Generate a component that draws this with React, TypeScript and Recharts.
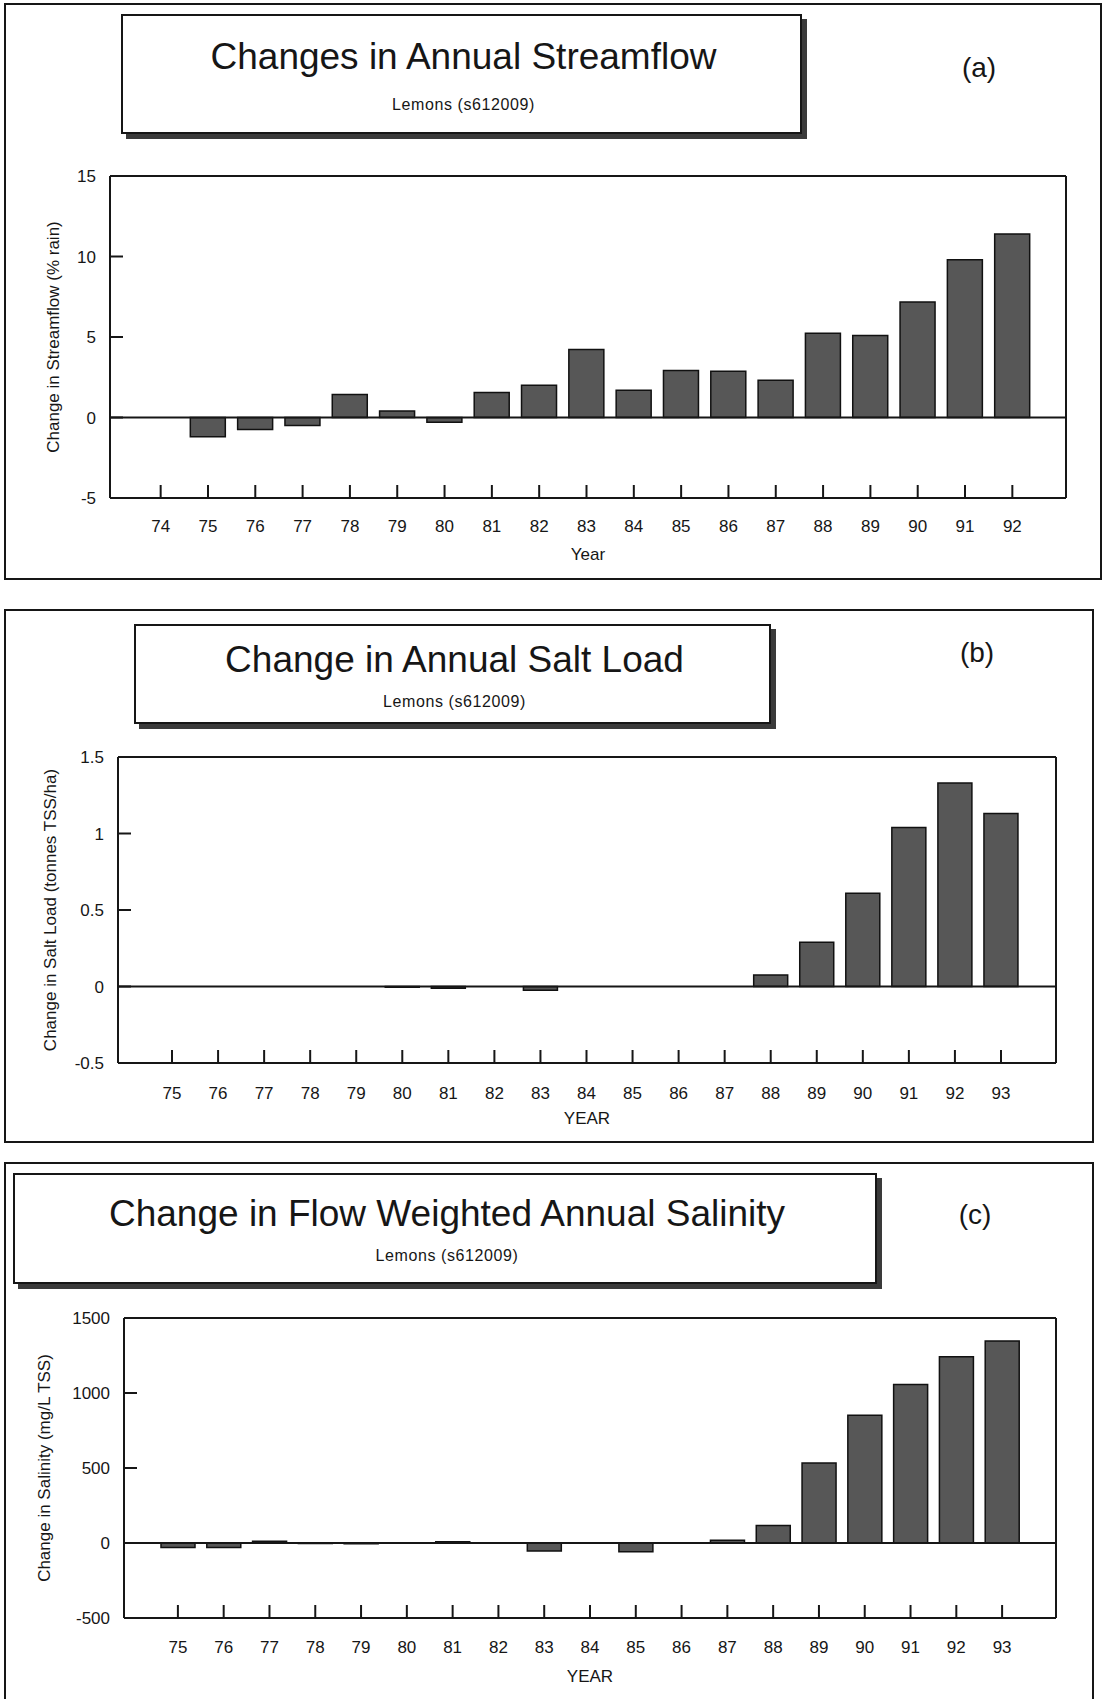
import React from "react";
import { Bar, BarChart, ReferenceLine, XAxis, YAxis } from "recharts";

// panel (a): 1974-1992
const YEARS_A = ["74", "75", "76", "77", "78", "79", "80", "81", "82", "83", "84", "85", "86", "87", "88", "89", "90", "91", "92"];
const STREAMFLOW = [0, -1.2, -0.74, -0.5, 1.43, 0.41, -0.3, 1.56, 2.0, 4.23, 1.7, 2.92, 2.87, 2.32, 5.24, 5.1, 7.17, 9.8, 11.4];
const TICKS_A = [-5, 0, 5, 10, 15];

// panels (b) and (c): 1975-1993
const YEARS_BC = ["75", "76", "77", "78", "79", "80", "81", "82", "83", "84", "85", "86", "87", "88", "89", "90", "91", "92", "93"];
const SALT_LOAD = [0, 0, 0, 0, 0, -0.005, -0.012, 0, -0.024, 0, 0, 0, 0, 0.075, 0.29, 0.61, 1.04, 1.33, 1.13];
const TICKS_B = [-0.5, 0, 0.5, 1, 1.5];
const SALINITY = [-30, -30, 12, -3, -5, -2, 8, -2, -53, -2, -58, -2, 19, 116, 534, 852, 1056, 1241, 1346];
const TICKS_C = [-500, 0, 500, 1000, 1500];

const INK = "#161616";
const FONT = "'Liberation Sans', Arial, Helvetica, sans-serif";

type Box = { left: number; top: number; right: number; bottom: number };

type PanelProps = {
  top: number;
  height: number;
  plot: Box;
  labelX: number;
  categories: string[];
  values: number[];
  ticks: number[];
  yLabel: string;
  xLabel: string;
  padL: number;
  padR: number;
  barSize: number;
  tickMargin: number;
  xLabelOffset: number;
};

function Panel(p: PanelProps) {
  const data = p.categories.map((year, i) => ({ year, value: p.values[i] }));
  const xAxisHeight = 70;
  const marginLeft = p.labelX - 10;
  return (
    <div style={{ position: "absolute", left: 0, top: p.top, width: 1106, height: p.height }}>
      <BarChart
        width={1106}
        height={p.height}
        data={data}
        margin={{
          top: p.plot.top - p.top - 1,
          right: 1106 - p.plot.right - 1,
          left: marginLeft,
          bottom: p.height - (p.plot.bottom - p.top) - xAxisHeight,
        }}
      >
        <XAxis
          dataKey="year"
          interval={0}
          padding={{ left: p.padL, right: p.padR }}
          height={xAxisHeight}
          tickSize={-13}
          tickMargin={p.tickMargin}
          tick={{ fill: INK, fontSize: 17 }}
          axisLine={{ stroke: INK, strokeWidth: 2 }}
          tickLine={{ stroke: INK, strokeWidth: 2 }}
          label={{ value: p.xLabel, position: "insideBottom", offset: p.xLabelOffset, fill: INK, fontSize: 17 }}
        />
        <XAxis
          xAxisId="top"
          orientation="top"
          dataKey="year"
          height={1}
          tick={false}
          tickLine={false}
          axisLine={{ stroke: INK, strokeWidth: 2 }}
        />
        <YAxis
          domain={[p.ticks[0], p.ticks[p.ticks.length - 1]]}
          ticks={p.ticks}
          interval={0}
          allowDataOverflow
          width={p.plot.left - marginLeft}
          tickSize={-13}
          tickMargin={27}
          tick={{ fill: INK, fontSize: 17 }}
          axisLine={{ stroke: INK, strokeWidth: 2 }}
          tickLine={{ stroke: INK, strokeWidth: 2 }}
          label={{
            value: p.yLabel,
            angle: -90,
            position: "insideLeft",
            offset: 10,
            fill: INK,
            fontSize: 17,
            style: { textAnchor: "middle" },
          }}
        />
        <YAxis
          yAxisId="right"
          orientation="right"
          domain={[0, 1]}
          ticks={[0, 1]}
          width={1}
          tick={false}
          tickLine={false}
          axisLine={{ stroke: INK, strokeWidth: 2 }}
        />
        <Bar dataKey="value" fill="#575757" stroke="#111" strokeWidth={1.5} barSize={p.barSize} isAnimationActive={false} />
        <ReferenceLine y={0} stroke={INK} strokeWidth={2} />
      </BarChart>
    </div>
  );
}

function Frame({ left, top, right, bottom, noBottom }: Box & { noBottom?: boolean }) {
  return (
    <div
      style={{
        position: "absolute",
        left,
        top,
        width: right - left,
        height: bottom - top,
        border: `2px solid ${INK}`,
        borderBottom: noBottom ? "none" : `2px solid ${INK}`,
        boxSizing: "border-box",
      }}
    />
  );
}

function TitleBox({ box, title, subtitle, titleY, subY }: { box: Box; title: string; subtitle: string; titleY: number; subY: number }) {
  const w = box.right - box.left;
  const centered = (y: number): React.CSSProperties => ({
    position: "absolute",
    left: w / 2,
    top: y - box.top,
    transform: "translate(-50%, -50%)",
    whiteSpace: "nowrap",
    lineHeight: 1,
  });
  return (
    <div
      style={{
        position: "absolute",
        left: box.left,
        top: box.top,
        width: w,
        height: box.bottom - box.top,
        border: `2px solid ${INK}`,
        boxSizing: "border-box",
        background: "#fff",
        boxShadow: "5px 5px 0 #3a3a3a",
      }}
    >
      <div style={{ ...centered(titleY), fontSize: 37 }}>{title}</div>
      <div style={{ ...centered(subY), fontSize: 16, letterSpacing: 0.6 }}>{subtitle}</div>
    </div>
  );
}

function Letter({ x, y, text }: { x: number; y: number; text: string }) {
  return (
    <div style={{ position: "absolute", left: x, top: y, transform: "translate(-50%, -50%)", fontSize: 28, lineHeight: 1 }}>
      {text}
    </div>
  );
}

export default function App() {
  return (
    <div
      style={{
        position: "absolute",
        left: 0,
        top: 0,
        width: 1106,
        height: 1699,
        background: "#fff",
        color: INK,
        fontFamily: FONT,
        overflow: "hidden",
      }}
    >
      {/* (a) streamflow */}
      <Frame left={4} top={3} right={1102} bottom={580} />
      <Panel
        top={0}
        height={580}
        plot={{ left: 110, right: 1066, top: 176, bottom: 498 }}
        labelX={53}
        categories={YEARS_A}
        values={STREAMFLOW}
        ticks={TICKS_A}
        yLabel="Change in Streamflow (% rain)"
        xLabel="Year"
        padL={27}
        padR={30}
        barSize={35}
        tickMargin={35}
        xLabelOffset={8}
      />
      <TitleBox
        box={{ left: 121, top: 14, right: 802, bottom: 134 }}
        title="Changes in Annual Streamflow"
        subtitle="Lemons (s612009)"
        titleY={54}
        subY={103}
      />
      <Letter x={979} y={68} text="(a)" />

      {/* (b) salt load */}
      <Frame left={4} top={609} right={1094} bottom={1143} />
      <Panel
        top={600}
        height={550}
        plot={{ left: 118, right: 1056, top: 757, bottom: 1063 }}
        labelX={50}
        categories={YEARS_BC}
        values={SALT_LOAD}
        ticks={TICKS_B}
        yLabel="Change in Salt Load (tonnes TSS/ha)"
        xLabel="YEAR"
        padL={31}
        padR={32}
        barSize={34}
        tickMargin={37}
        xLabelOffset={9}
      />
      <TitleBox
        box={{ left: 134, top: 624, right: 771, bottom: 724 }}
        title="Change in Annual Salt Load"
        subtitle="Lemons (s612009)"
        titleY={657}
        subY={700}
      />
      <Letter x={977} y={653} text="(b)" />

      {/* (c) salinity */}
      <Frame left={4} top={1162} right={1094} bottom={1699} noBottom />
      <Panel
        top={1150}
        height={549}
        plot={{ left: 124, right: 1056, top: 1318, bottom: 1618 }}
        labelX={44}
        categories={YEARS_BC}
        values={SALINITY}
        ticks={TICKS_C}
        yLabel="Change in Salinity (mg/L TSS)"
        xLabel="YEAR"
        padL={31}
        padR={31}
        barSize={34}
        tickMargin={36}
        xLabelOffset={6}
      />
      <TitleBox
        box={{ left: 13, top: 1173, right: 877, bottom: 1284 }}
        title="Change in Flow Weighted Annual Salinity"
        subtitle="Lemons (s612009)"
        titleY={1211}
        subY={1254}
      />
      <Letter x={975} y={1215} text="(c)" />
    </div>
  );
}
